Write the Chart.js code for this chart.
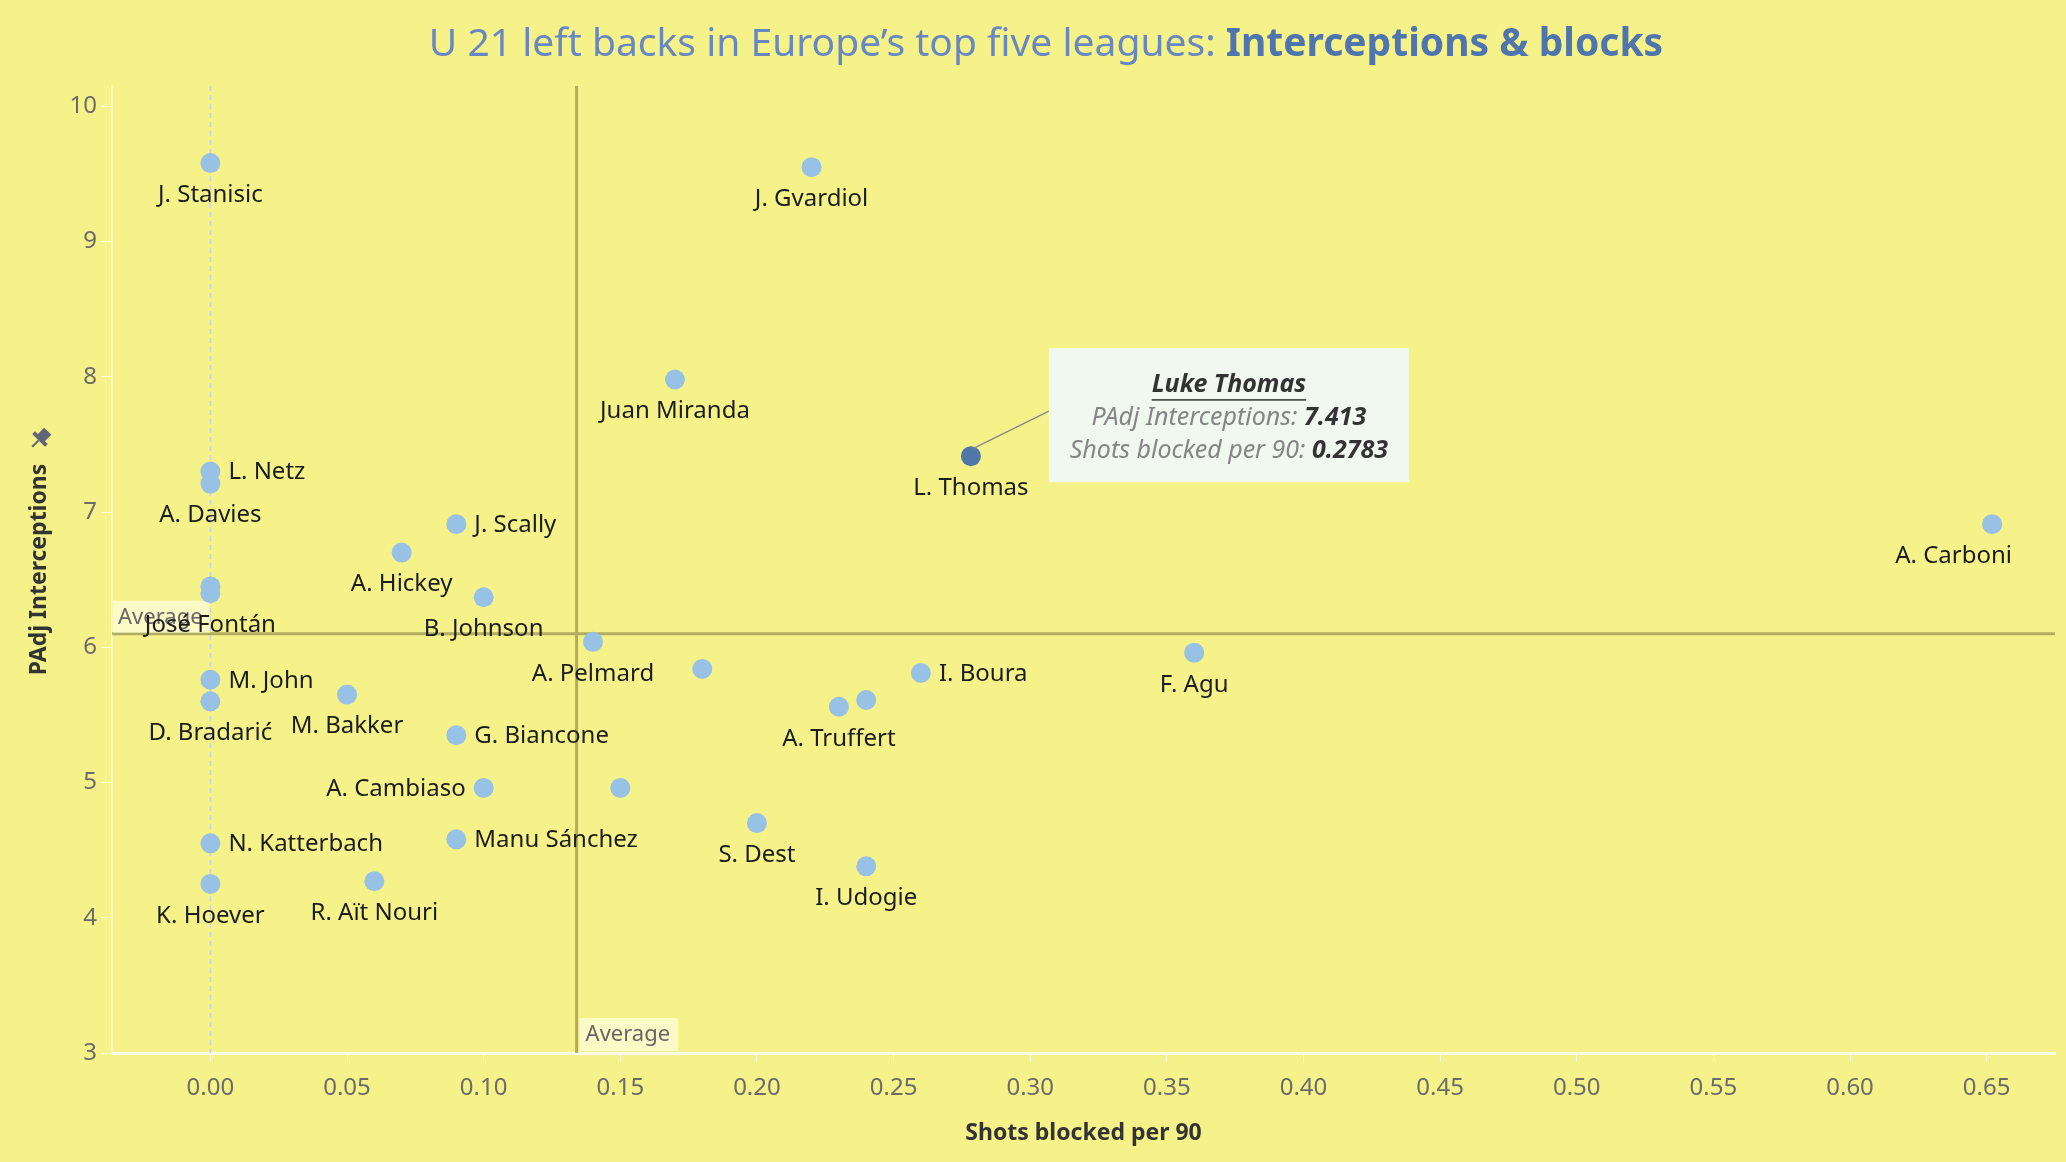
<!DOCTYPE html>
<html>
<head>
<meta charset="utf-8">
<script src="https://cdn.jsdelivr.net/npm/chart.js@4.4.0/dist/chart.umd.min.js"></script>
<style>
  html, body { margin: 0; padding: 0; background: #f6f28a; }
  #wrap { width: 2066px; height: 1162px; position: relative; }
</style>
</head>
<body>
<div id="wrap"><canvas id="chart"></canvas></div>
<script>
// data
const players = ["J. Stanisic", "J. Gvardiol", "Juan Miranda", "L. Thomas", "A. Carboni",
  "L. Netz", "A. Davies", "J. Scally", "A. Hickey", "B. Johnson",
  "José Fontán", "", "A. Pelmard", "", "I. Boura",
  "F. Agu", "A. Truffert", "", "M. John", "D. Bradarić",
  "M. Bakker", "G. Biancone", "A. Cambiaso", "", "S. Dest",
  "I. Udogie", "Manu Sánchez", "N. Katterbach", "K. Hoever", "R. Aït Nouri"];
const shotsBlocked = [0, 0.22, 0.17, 0.2783, 0.652,
  0, 0, 0.09, 0.07, 0.10,
  0, 0, 0.14, 0.18, 0.26,
  0.36, 0.23, 0.24, 0, 0,
  0.05, 0.09, 0.10, 0.15, 0.20,
  0.24, 0.09, 0, 0, 0.06];
const interceptions = [9.58, 9.55, 7.98, 7.413, 6.91,
  7.30, 7.21, 6.91, 6.70, 6.37,
  6.40, 6.45, 6.04, 5.84, 5.81,
  5.96, 5.56, 5.61, 5.76, 5.60,
  5.65, 5.35, 4.96, 4.96, 4.70,
  4.38, 4.58, 4.55, 4.25, 4.27];
const xTicks = [0, 0.05, 0.10, 0.15, 0.20, 0.25, 0.30, 0.35, 0.40, 0.45, 0.50, 0.55, 0.60, 0.65];
const yTicks = [3, 4, 5, 6, 7, 8, 9, 10];
const avgShots = 0.134;
const avgInterceptions = 6.10;
const highlighted = "L. Thomas";
const tooltipName = "Luke Thomas";

const BG = "#f6f28a";
const DOT = "#98c1e6";
const DOT_HI = "#4f78a8";
const FONT = "'Noto Sans', 'Open Sans', sans-serif";

// which side of the dot each name goes
const rightSide = ["L. Netz", "J. Scally", "M. John", "G. Biancone", "Manu Sánchez", "N. Katterbach", "I. Boura"];
const leftSide = ["A. Cambiaso"];

const points = shotsBlocked.map((x, i) => ({ x: x, y: interceptions[i] }));

const bgPlugin = {
  id: "bg",
  beforeDraw(chart) {
    const ctx = chart.ctx;
    ctx.save();
    ctx.fillStyle = BG;
    ctx.fillRect(0, 0, chart.width, chart.height);

    // title, two weights
    const t1 = "U 21 left backs in Europe\u2019s top five leagues: ";
    const t2 = "Interceptions & blocks";
    ctx.textBaseline = "middle";
    ctx.font = "39px " + FONT;
    const w1 = ctx.measureText(t1).width;
    ctx.font = "bold 39px " + FONT;
    const w2 = ctx.measureText(t2).width;
    let x = 1046 - (w1 + w2) / 2;
    ctx.font = "39px " + FONT;
    ctx.fillStyle = "#6888c1";
    ctx.fillText(t1, x, 45);
    ctx.font = "bold 39px " + FONT;
    ctx.fillStyle = "#4f75ae";
    ctx.fillText(t2, x + w1, 45);

    // pin icon above the y title
    ctx.translate(40, 439);
    ctx.rotate(Math.PI / 4);
    ctx.fillStyle = "#5d6577";
    ctx.fillRect(-5, -11, 10, 10);
    ctx.fillRect(-9, -2, 18, 4);
    ctx.fillRect(-1, 2, 2, 9);
    ctx.restore();
  },
  beforeDatasetsDraw(chart) {
    const { ctx, chartArea: a, scales: { x, y } } = chart;
    ctx.save();
    // dashed drop line at zero
    ctx.strokeStyle = "#cfd0dc";
    ctx.lineWidth = 1.5;
    ctx.setLineDash([5, 4]);
    const x0 = x.getPixelForValue(0);
    ctx.beginPath();
    ctx.moveTo(x0, a.top);
    ctx.lineTo(x0, a.bottom);
    ctx.stroke();
    ctx.setLineDash([]);

    // average reference lines
    ctx.strokeStyle = "rgba(150,145,80,0.72)";
    ctx.lineWidth = 3;
    const ax = x.getPixelForValue(avgShots);
    const ay = y.getPixelForValue(avgInterceptions);
    ctx.beginPath();
    ctx.moveTo(ax, a.top);
    ctx.lineTo(ax, a.bottom);
    ctx.moveTo(a.left, ay);
    ctx.lineTo(a.right, ay);
    ctx.stroke();

    // "Average" tags
    ctx.font = "22px " + FONT;
    ctx.textBaseline = "middle";
    const tw = ctx.measureText("Average").width;
    ctx.fillStyle = "rgba(255,253,225,0.7)";
    ctx.fillRect(a.left + 1, ay - 33, tw + 12, 32);
    ctx.fillRect(ax + 3, a.bottom - 35, tw + 14, 33);
    ctx.fillStyle = "#666666";
    ctx.fillText("Average", a.left + 6, ay - 16);
    ctx.fillText("Average", ax + 9, a.bottom - 18);
    ctx.restore();
  },
  afterDatasetsDraw(chart) {
    const ctx = chart.ctx;
    const a = chart.chartArea;
    const meta = chart.getDatasetMeta(0);
    ctx.save();
    ctx.font = "24px " + FONT;
    ctx.fillStyle = "#1c1c1c";
    ctx.textBaseline = "middle";
    meta.data.forEach((el, i) => {
      const name = players[i];
      if (!name) return;
      if (rightSide.includes(name)) {
        ctx.textAlign = "left";
        ctx.fillText(name, el.x + 18, el.y + 1);
      } else if (leftSide.includes(name)) {
        ctx.textAlign = "right";
        ctx.fillText(name, el.x - 18, el.y + 1);
      } else {
        // keep labels clear of the right edge
        const w = ctx.measureText(name).width;
        const cx = Math.min(el.x, a.right - 43 - w / 2);
        ctx.textAlign = "center";
        ctx.fillText(name, cx, el.y + 32);
      }
    });

    // tooltip for the highlighted player
    const idx = players.indexOf(highlighted);
    const pt = meta.data[idx];
    const bx = pt.x + 78, by = pt.y - 108, bw = 360, bh = 134;
    ctx.strokeStyle = "#888888";
    ctx.lineWidth = 1.5;
    ctx.beginPath();
    ctx.moveTo(pt.x + 3, pt.y - 8);
    ctx.lineTo(bx, pt.y - 45);
    ctx.stroke();
    ctx.fillStyle = "#f1f8f0";
    ctx.fillRect(bx, by, bw, bh);

    const cx = bx + bw / 2;
    ctx.textAlign = "left";
    ctx.font = "italic bold 25px " + FONT;
    const nw = ctx.measureText(tooltipName).width;
    ctx.fillStyle = "#333333";
    ctx.fillText(tooltipName, cx - nw / 2, by + 37);
    ctx.fillRect(cx - nw / 2, by + 51, nw, 1.5);

    const rows = [
      ["PAdj Interceptions: ", interceptions[idx].toFixed(3)],
      ["Shots blocked per 90: ", shotsBlocked[idx].toFixed(4)]
    ];
    rows.forEach((r, k) => {
      ctx.font = "italic 25px " + FONT;
      const lw = ctx.measureText(r[0]).width;
      ctx.font = "italic bold 25px " + FONT;
      const vw = ctx.measureText(r[1]).width;
      const sx = cx - (lw + vw) / 2;
      const yy = by + 70 + k * 33;
      ctx.font = "italic 25px " + FONT;
      ctx.fillStyle = "#858585";
      ctx.fillText(r[0], sx, yy);
      ctx.font = "italic bold 25px " + FONT;
      ctx.fillStyle = "#333333";
      ctx.fillText(r[1], sx + lw, yy);
    });
    ctx.restore();
  }
};

new Chart(document.getElementById("chart"), {
  type: "scatter",
  data: {
    datasets: [{
      data: points,
      pointRadius: 10,
      pointBorderWidth: 0,
      pointBackgroundColor: players.map(p => p === highlighted ? DOT_HI : DOT)
    }]
  },
  options: {
    responsive: true,
    maintainAspectRatio: false,
    animation: false,
    events: [],
    layout: { padding: { top: 86, right: 11, left: 0, bottom: 0 } },
    plugins: { legend: { display: false }, tooltip: { enabled: false } },
    scales: {
      x: {
        type: "linear",
        min: -0.036,
        max: 0.675,
        afterBuildTicks: (s) => { s.ticks = xTicks.map(v => ({ value: v })); },
        afterFit: (s) => { s.height = 109; },
        border: { display: true, color: "#fbf9e8", width: 3 },
        grid: { drawOnChartArea: false, drawTicks: true, tickLength: 9, tickColor: "#fbf9e8" },
        ticks: {
          padding: 12,
          color: "#6b6b6b",
          font: { family: FONT, size: 24 },
          callback: (v) => v.toFixed(2)
        },
        title: {
          display: true,
          text: "Shots blocked per 90",
          color: "#333333",
          font: { family: FONT, size: 23, weight: "bold" },
          padding: { top: 0, bottom: 15 }
        }
      },
      y: {
        type: "linear",
        min: 3.0,
        max: 10.15,
        afterBuildTicks: (s) => { s.ticks = yTicks.map(v => ({ value: v })); },
        afterFit: (s) => { s.width = 112; },
        border: { display: true, color: "#fbf9e8", width: 1.5 },
        grid: { drawOnChartArea: false, drawTicks: true, tickLength: 10, tickColor: "#fbf9e8" },
        ticks: {
          padding: 5,
          color: "#6b6b6b",
          font: { family: FONT, size: 24 },
          callback: (v) => String(v)
        },
        title: {
          display: true,
          text: "PAdj Interceptions",
          color: "#333333",
          font: { family: FONT, size: 23, weight: "bold" },
          padding: { top: 26, bottom: 0 }
        }
      }
    }
  },
  plugins: [bgPlugin]
});
</script>
</body>
</html>
